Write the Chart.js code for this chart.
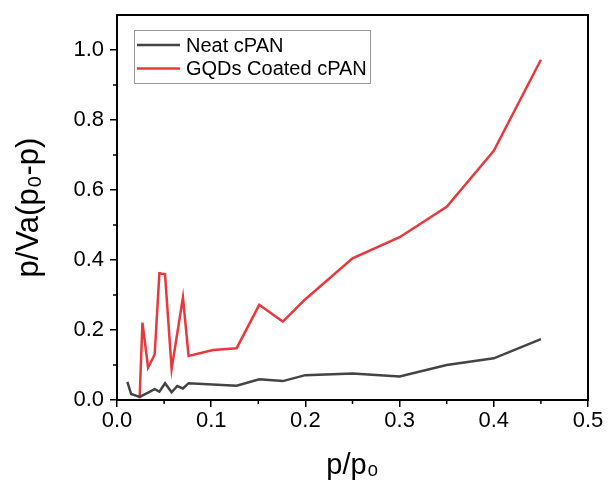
<!DOCTYPE html>
<html><head><meta charset="utf-8">
<script src="https://cdn.jsdelivr.net/npm/chart.js@4/dist/chart.umd.min.js"></script>
<style>html,body{margin:0;padding:0;background:#fff}#wrap{width:609px;height:486px}</style>
</head><body><div id="wrap"><canvas id="c" width="609" height="486"></canvas></div>
<script>
const neatX = [0.011,0.015,0.024,0.033,0.040,0.045,0.051,0.058,0.064,0.070,0.076,0.127,0.151,0.176,0.200,0.250,0.300,0.350,0.400,0.450];
const neatY = [0.052,0.017,0.009,0.021,0.031,0.024,0.048,0.022,0.040,0.033,0.048,0.041,0.059,0.054,0.071,0.076,0.067,0.100,0.119,0.174];
const gqdX = [0.024,0.027,0.033,0.040,0.045,0.051,0.058,0.070,0.076,0.102,0.127,0.151,0.176,0.200,0.250,0.300,0.350,0.400,0.450];
const gqdY = [0.005,0.221,0.093,0.130,0.362,0.359,0.089,0.293,0.126,0.143,0.148,0.272,0.224,0.288,0.405,0.465,0.552,0.712,0.972];
const seriesNames = ['Neat cPAN','GQDs Coated cPAN'];
const xTicks = [0.0,0.1,0.2,0.3,0.4,0.5];
const yTicks = [0.0,0.2,0.4,0.6,0.8,1.0];
const xMinor = [0.05,0.15,0.25,0.35,0.45];
const yMinor = [0.1,0.3,0.5,0.7,0.9];

const FONT = "'Liberation Sans', Arial, sans-serif";
const toPts = (xs, ys) => xs.map((x,i)=>({x:x,y:ys[i]}));

const framePlugin = {
  id:'frame',
  afterDraw(chart){
    const {ctx, chartArea:a, scales} = chart;
    ctx.save();
    ctx.strokeStyle='#000'; ctx.lineWidth=2;
    ctx.strokeRect(a.left, a.top, a.right-a.left, a.bottom-a.top);
    ctx.lineWidth=1.5;
    xMinor.forEach(v=>{const px=scales.x.getPixelForValue(v);ctx.beginPath();ctx.moveTo(px,a.bottom);ctx.lineTo(px,a.bottom+4);ctx.stroke();});
    yMinor.forEach(v=>{const py=scales.y.getPixelForValue(v);ctx.beginPath();ctx.moveTo(a.left,py);ctx.lineTo(a.left-4,py);ctx.stroke();});
    // legend
    const lx=134, ly=30, lw=236, lh=53;
    ctx.lineWidth=1; ctx.strokeStyle='#999';
    ctx.strokeRect(lx+0.5, ly+0.5, lw, lh);
    ctx.font = "20px "+FONT; ctx.textBaseline='middle'; ctx.fillStyle='#000';
    chart.data.datasets.forEach((ds,i)=>{
      const cy = ly+15+i*23.5;
      ctx.strokeStyle=ds.borderColor; ctx.lineWidth=2.5;
      ctx.beginPath(); ctx.moveTo(lx+3,cy); ctx.lineTo(lx+46,cy); ctx.stroke();
      ctx.fillText(ds.label, lx+52, cy+1);
    });
    ctx.restore();
  }
};

new Chart(document.getElementById('c'), {
  type:'scatter',
  data:{datasets:[
    {label:seriesNames[0], data:toPts(neatX,neatY), showLine:true, borderColor:'#444444', borderWidth:2.5, pointRadius:0, tension:0},
    {label:seriesNames[1], data:toPts(gqdX,gqdY), showLine:true, borderColor:'#e8383d', borderWidth:2.5, pointRadius:0, tension:0}
  ]},
  options:{
    responsive:false, animation:false,
    layout:{padding:{top:15,right:21,left:0,bottom:0}},
    plugins:{legend:{display:false}, tooltip:{enabled:false}},
    scales:{
      x:{type:'linear', min:0, max:0.5,
        afterBuildTicks(s){s.ticks = xTicks.map(v=>({value:v}));},
        afterFit(s){s.height=86; s.paddingLeft=0; s.paddingRight=0;},
        ticks:{color:'#000', font:{family:FONT,size:22}, padding:1, maxRotation:0, callback:v=>v.toFixed(1)},
        grid:{display:true, drawOnChartArea:false, drawTicks:true, tickLength:7, color:'#000', lineWidth:1.5},
        border:{display:true,color:'#000',width:2},
        title:{display:true, text:'p/p₀', color:'#000', font:{family:FONT,size:29}, padding:{top:2,bottom:3}}
      },
      y:{type:'linear', min:0, max:1.1,
        afterBuildTicks(s){s.ticks = yTicks.map(v=>({value:v}));},
        afterFit(s){s.width=117; s.paddingTop=0; s.paddingBottom=0;},
        ticks:{color:'#000', font:{family:FONT,size:22}, padding:6, callback:v=>v.toFixed(1)},
        grid:{display:true, drawOnChartArea:false, drawTicks:true, tickLength:7, color:'#000', lineWidth:1.5},
        border:{display:true,color:'#000',width:2},
        title:{display:true, text:'p/Va(p₀-p)', color:'#000', font:{family:FONT,size:31}, padding:{top:11,bottom:4}}
      }
    }
  },
  plugins:[framePlugin]
});
</script></body></html>
